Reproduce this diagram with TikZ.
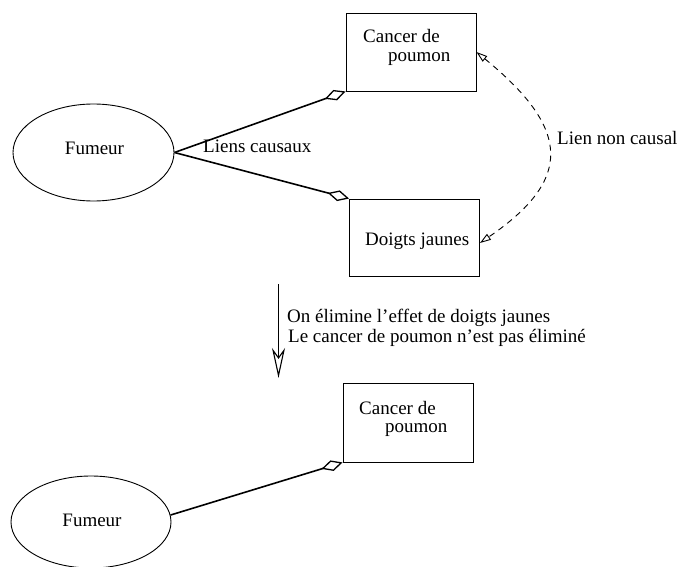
\documentclass[tikz,border=0pt]{standalone}
\usepackage{fontspec}
\setmainfont{Liberation Serif}
\usetikzlibrary{arrows.meta,shapes.geometric}
\begin{document}
\begin{tikzpicture}[x=1pt,y=-1pt,
  every node/.style={font=\fontsize{19}{19}\selectfont},
  box/.style={draw,line width=0.9pt,inner sep=0pt,minimum width=130pt},
  ell/.style={draw,ellipse,line width=0.9pt,inner sep=0pt},
  lbl/.style={inner sep=0pt},
  causal/.style={line width=1.6pt,-{Diamond[open,length=22pt,width=11pt,line width=1.3pt]}},
  noncausal/.style={line width=0.9pt,dash pattern=on 6pt off 5pt,
     {Triangle[open,length=11pt,width=7pt,line width=0.9pt]}-{Triangle[open,length=11pt,width=7pt,line width=0.9pt]}},
  step arrow/.style={line width=1.5pt,-{Stealth[open,length=30pt,width=13pt,inset=9pt,line width=1.1pt]}}
]
\useasboundingbox (0,0) rectangle (677,567);
% top part
\node[ell,minimum width=161pt,minimum height=97pt] (f1) at (93.5,152.5) {};
\node[lbl,anchor=base] (f1t) at (94.5,154) {Fumeur};
\node[box,minimum height=78pt] (c1) at (411,52) {};
\node[lbl,anchor=base west] (c1a) at (363,43) {Cancer de};
\node[lbl,anchor=base west] (c1b) at (388,62) {poumon};
\node[box,minimum height=77pt] (d1) at (414.5,237.5) {};
\node[lbl,anchor=base west] (d1t) at (365,245) {Doigts jaunes};
\draw[causal] (f1.east) -- (c1.south west);
\draw[causal] (f1.east) -- (d1.north west);
\node[lbl,anchor=base west] (lc) at (203,153) {Liens causaux};
\draw[noncausal] (c1.east) .. controls (572,130) and (572,180) .. ([yshift=-5.5pt]d1.east);
\node[lbl,anchor=base west] (lnc) at (557,145) {Lien non causal};
% transition
\coordinate (a1) at (278.5,284);
\coordinate (a2) at (278.5,378);
\draw[step arrow] (a1) -- (a2);
\node[lbl,anchor=base west] (t1) at (287,322) {On élimine l’effet de doigts jaunes};
\node[lbl,anchor=base west] (t2) at (288,342) {Le cancer de poumon n’est pas éliminé};
% bottom part
\node[ell,minimum width=160pt,minimum height=92pt] (f2) at (91,522) {};
\node[lbl,anchor=base] (f2t) at (92,526) {Fumeur};
\node[box,minimum height=79pt] (c2) at (408,422.5) {};
\node[lbl,anchor=base west] (c2a) at (359,414) {Cancer de};
\node[lbl,anchor=base west] (c2b) at (385,432) {poumon};
\draw[causal] (f2.5) -- (c2.south west);
\end{tikzpicture}
\end{document}
